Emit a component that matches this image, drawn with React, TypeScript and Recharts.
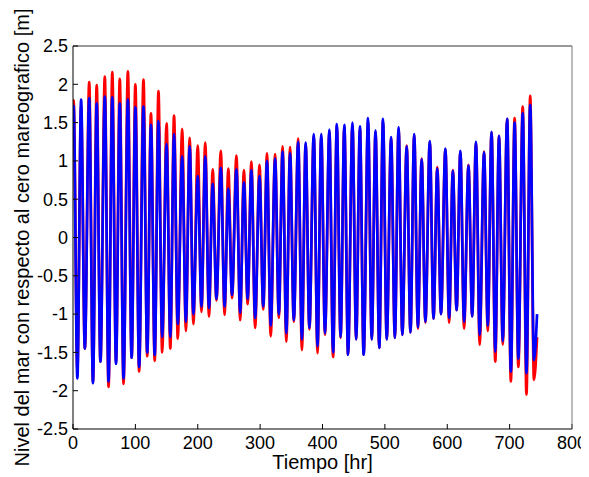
import React from 'react';
import { LineChart, Line, XAxis, YAxis } from 'recharts';

// Hours (from the start of the record) of each high and low water
const highHours = [1, 13, 26, 38, 51, 63, 75, 88, 100, 113, 125, 137, 150, 162, 175, 187, 200, 212, 224, 237, 249, 262, 274, 286, 299, 311, 324, 336, 348, 361, 373, 386, 398, 411, 423, 435, 448, 460, 473, 485, 497, 510, 522, 535, 547, 559, 572, 584, 597, 609, 621, 634, 646, 659, 671, 683, 696, 708, 721, 733];
const lowHours = [7, 19, 32, 44, 57, 69, 81, 94, 106, 119, 131, 143, 156, 168, 181, 193, 206, 218, 230, 243, 255, 268, 280, 292, 305, 317, 330, 342, 354, 367, 379, 392, 404, 417, 429, 441, 454, 466, 479, 491, 503, 516, 528, 541, 553, 565, 578, 590, 603, 615, 627, 640, 652, 665, 677, 689, 702, 714, 727, 739];

// Observed sea level (red) at each high / low [m]
const observedHighs = [1.79, 1.71, 2.03, 1.99, 2.10, 2.16, 2.07, 2.17, 2.00, 2.06, 1.62, 1.91, 1.49, 1.59, 1.42, 1.30, 1.20, 1.24, 0.89, 1.13, 0.90, 1.07, 0.88, 0.99, 0.95, 1.10, 1.09, 1.19, 1.18, 1.29, 1.22, 1.33, 1.32, 1.38, 1.45, 1.44, 1.47, 1.42, 1.52, 1.38, 1.52, 1.30, 1.42, 1.20, 1.34, 1.03, 1.25, 0.92, 1.15, 0.88, 1.12, 0.95, 1.24, 1.12, 1.37, 1.32, 1.55, 1.56, 1.71, 1.85];
const observedLows = [-1.72, -1.45, -1.88, -1.62, -1.95, -1.62, -1.91, -1.57, -1.75, -1.55, -1.61, -1.50, -1.45, -1.32, -1.22, -1.13, -0.97, -1.03, -0.82, -1.01, -0.79, -1.08, -0.87, -1.18, -0.94, -1.29, -1.05, -1.36, -1.10, -1.47, -1.20, -1.51, -1.27, -1.56, -1.31, -1.53, -1.33, -1.53, -1.33, -1.44, -1.33, -1.31, -1.27, -1.24, -1.19, -1.11, -1.06, -1.00, -1.11, -0.95, -1.19, -1.03, -1.40, -1.22, -1.62, -1.40, -1.88, -1.69, -2.05, -1.86];

// Predicted tide (blue) at each high / low [m]
const predictedHighs = [1.72, 1.80, 1.82, 1.75, 1.84, 1.83, 1.75, 1.80, 1.70, 1.71, 1.47, 1.52, 1.22, 1.35, 1.06, 1.19, 0.80, 1.06, 0.70, 0.91, 0.64, 0.89, 0.72, 0.88, 0.80, 1.00, 1.03, 1.12, 1.10, 1.25, 1.24, 1.35, 1.35, 1.41, 1.48, 1.47, 1.50, 1.45, 1.56, 1.40, 1.55, 1.31, 1.44, 1.19, 1.35, 1.02, 1.26, 0.90, 1.16, 0.87, 1.13, 0.94, 1.25, 1.11, 1.38, 1.33, 1.55, 1.50, 1.62, 1.73];
const predictedLows = [-1.84, -1.45, -1.90, -1.62, -1.88, -1.65, -1.84, -1.57, -1.69, -1.50, -1.53, -1.30, -1.30, -1.13, -1.10, -1.00, -0.90, -0.92, -0.80, -0.90, -0.75, -0.98, -0.80, -1.05, -0.90, -1.15, -1.00, -1.25, -1.08, -1.33, -1.18, -1.42, -1.25, -1.50, -1.30, -1.53, -1.33, -1.53, -1.33, -1.44, -1.33, -1.31, -1.27, -1.24, -1.17, -1.10, -1.06, -1.00, -1.05, -0.95, -1.10, -1.03, -1.27, -1.15, -1.49, -1.35, -1.75, -1.58, -1.77, -1.60];

// First and last samples of the record
const startHour = 0;
const startObserved = 1.7;
const startPredicted = 1.62;
const endHour = 744;
const endObserved = -1.3;
const endPredicted = -1.0;

const xTicks = [0, 100, 200, 300, 400, 500, 600, 700, 800];
const yTicks = [-2.5, -2, -1.5, -1, -0.5, 0, 0.5, 1, 1.5, 2, 2.5];

const xLabel = 'Tiempo [hr]';
const yLabel = 'Nivel del mar con respecto al cero mareografico [m]';

type Row = { t: number; obs: number; pred: number };
const rows: Row[] = [{ t: startHour, obs: startObserved, pred: startPredicted }];
for (let i = 0; i < highHours.length; i++) {
  rows.push({ t: highHours[i], obs: observedHighs[i], pred: predictedHighs[i] });
  rows.push({ t: lowHours[i], obs: observedLows[i], pred: predictedLows[i] });
}
rows.push({ t: endHour, obs: endObserved, pred: endPredicted });
rows.sort((a, b) => a.t - b.t);

const FONT = '"Liberation Sans", Arial, Helvetica, sans-serif';

const YLabel = () => (
  <text
    x={14}
    y={229.5}
    transform="rotate(-90, 14, 229.5)"
    textAnchor="middle"
    dominantBaseline="central"
    fontSize={20}
    fontFamily={FONT}
    fill="#000"
  >
    {yLabel}
  </text>
);

export default function App() {
  return (
    <div style={{ width: 581, height: 469, background: '#fff' }}>
      <LineChart
        width={581}
        height={469}
        data={rows}
        margin={{ top: 38, right: 17, bottom: 3, left: 0 }}
        style={{ fontFamily: FONT }}
      >
        <XAxis
          dataKey="t"
          type="number"
          domain={[0, 800]}
          ticks={xTicks}
          interval={0}
          allowDataOverflow
          height={45}
          tickSize={-5}
          tickMargin={12}
          axisLine={{ stroke: '#000', strokeWidth: 1 }}
          tickLine={{ stroke: '#000' }}
          tick={{ fill: '#000', fontSize: 18 }}
          label={{ value: xLabel, position: 'insideBottom', offset: 5, fill: '#000', fontSize: 20 }}
        />
        <XAxis
          xAxisId="top"
          orientation="top"
          mirror
          dataKey="t"
          type="number"
          domain={[0, 800]}
          ticks={xTicks}
          interval={0}
          allowDataOverflow
          height={1}
          tickSize={5}
          axisLine={{ stroke: '#333', strokeWidth: 1 }}
          tickLine={{ stroke: '#333' }}
          tick={false}
        />
        <YAxis
          type="number"
          domain={[-2.5, 2.5]}
          ticks={yTicks}
          interval={0}
          allowDataOverflow
          width={65}
          tickSize={-5}
          tickMargin={10}
          axisLine={{ stroke: '#000', strokeWidth: 1 }}
          tickLine={{ stroke: '#000' }}
          tick={{ fill: '#000', fontSize: 18 }}
          label={{ content: () => <YLabel /> }}
        />
        <YAxis
          yAxisId="right"
          orientation="right"
          mirror
          type="number"
          domain={[-2.5, 2.5]}
          ticks={yTicks}
          interval={0}
          allowDataOverflow
          width={1}
          tickSize={5}
          axisLine={{ stroke: '#777', strokeWidth: 1 }}
          tickLine={{ stroke: '#333' }}
          tick={false}
        />
        {/* invisible series that binds the top and right frame axes */}
        <Line
          xAxisId="top"
          yAxisId="right"
          type="linear"
          dataKey="pred"
          stroke="none"
          strokeWidth={0}
          dot={false}
          activeDot={false}
          legendType="none"
          isAnimationActive={false}
        />
        <Line
          type="monotone"
          dataKey="obs"
          stroke="#ff0000"
          strokeWidth={2.7}
          dot={false}
          activeDot={false}
          isAnimationActive={false}
        />
        <Line
          type="monotone"
          dataKey="pred"
          stroke="#0000ff"
          strokeWidth={2.7}
          dot={false}
          activeDot={false}
          isAnimationActive={false}
        />
      </LineChart>
    </div>
  );
}
